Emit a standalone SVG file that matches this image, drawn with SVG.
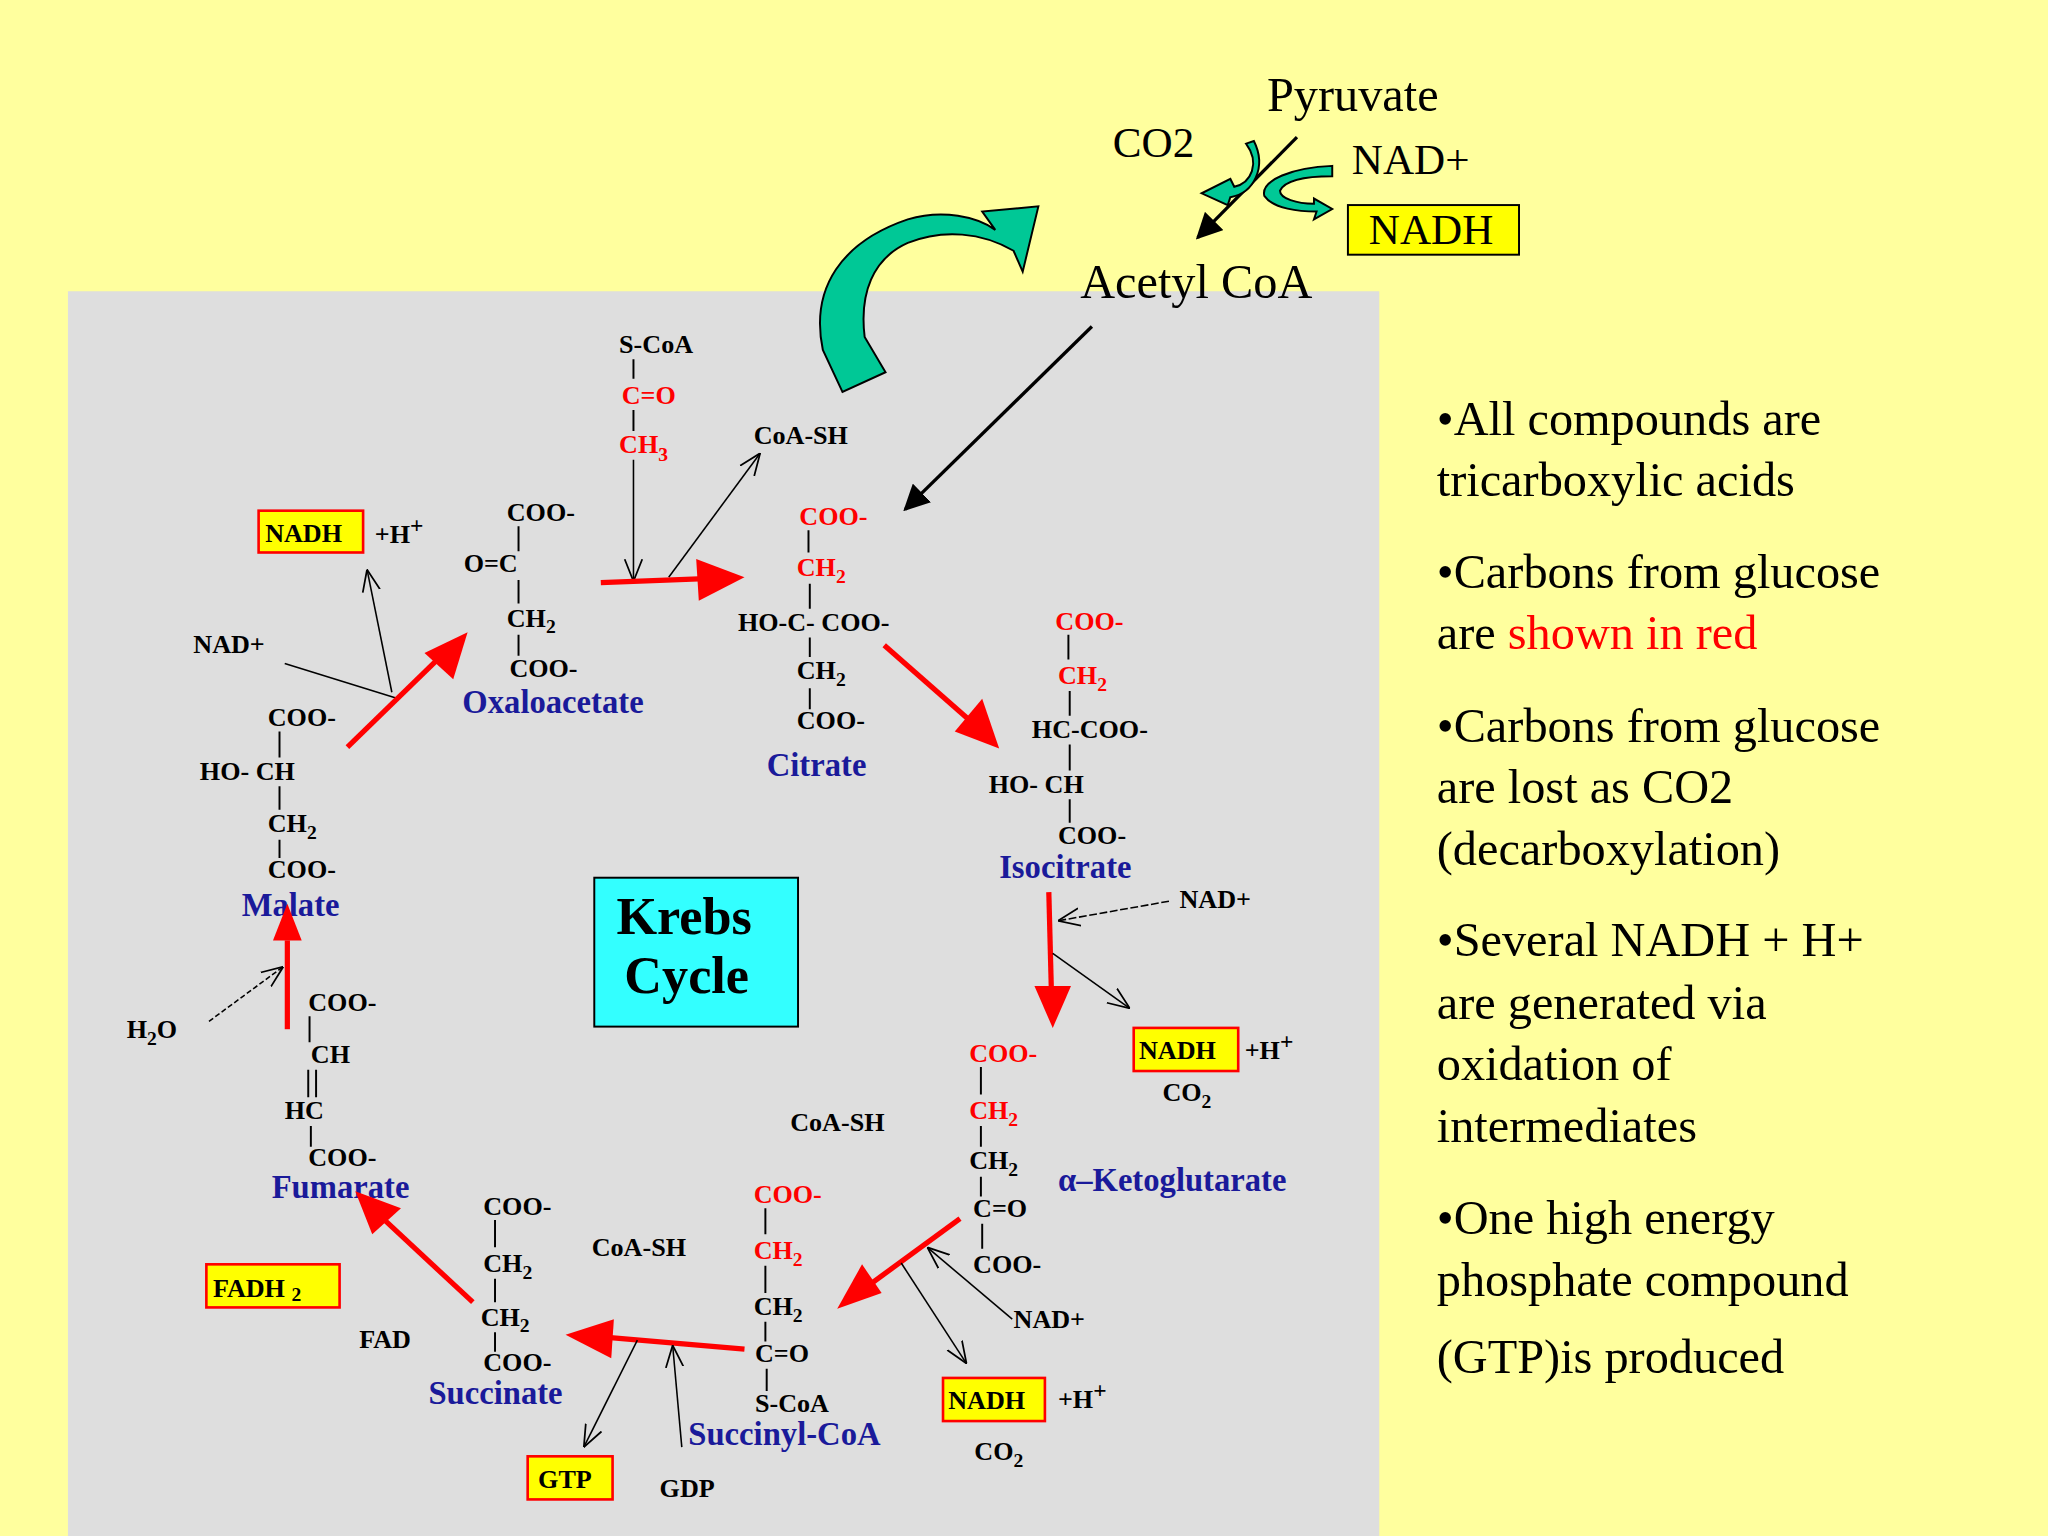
<svg xmlns="http://www.w3.org/2000/svg" width="2048" height="1536" viewBox="0 0 2048 1536">
<style>
.c{font-family:"Liberation Serif",serif;font-weight:bold;font-size:20px;fill:#000}
.r{fill:#f00}
.n{font-family:"Liberation Serif",serif;font-weight:bold;font-size:25px;fill:#1a1a9a}
.t{font-family:"Liberation Serif",serif;font-size:37px;fill:#000}
.b{stroke:#000;stroke-width:1.5;fill:none}
.th{stroke:#000;stroke-width:1.2;fill:none}
.red{stroke:#f00;stroke-width:4;fill:none}
.box{fill:#ff0;stroke:#f00;stroke-width:2}
.g{fill:#00c896;stroke:#000;stroke-width:1.5}
</style>
<defs>
<marker id="ah" viewBox="0 0 10 10" refX="9" refY="5" markerWidth="8" markerHeight="8" orient="auto"><path d="M0,0 L10,5 L0,10 z" fill="#000"/></marker>
<marker id="oh" viewBox="0 0 10 10" refX="10" refY="5" markerWidth="14" markerHeight="14" orient="auto"><path d="M0,1 L10,5 L0,9" fill="none" stroke="#000" stroke-width="0.8"/></marker>
</defs>
<rect width="2048" height="1536" fill="#ffff9e"/>
<g transform="scale(1.30612)">
<rect x="52" y="223" width="1004" height="953" fill="#dedede"/>

<g id="top">
<text class="t" x="970" y="85">Pyruvate</text>
<text class="t" x="852" y="120" style="font-size:33px">CO2</text>
<text class="t" x="1035" y="133" style="font-size:33px">NAD+</text>
<rect x="1032" y="157" width="131" height="38" fill="#ff0" stroke="#000" stroke-width="1.5"/>
<text class="t" x="1048" y="187" style="font-size:33px">NADH</text>
<text class="t" x="827" y="228">Acetyl CoA</text>
<line x1="993" y1="105" x2="917" y2="182" stroke="#000" stroke-width="2.5" marker-end="url(#ah)"/>
<path class="g" d="M954,110 C965,125 958,140 945,143 L942,137 L920,148 L940,157 L942,151 C960,148 970,128 960,108 z"/>
<path class="g" d="M1020,127 C990,128 965,138 968,150 C975,160 995,162 1008,162 L1006,168 L1020,160 L1006,152 L1006,156 C993,156 980,152 980,146 C984,138 1000,135 1020,135 z"/>
<path class="g" d="M645,300 L630,268 C620,220 645,185 695,168 C722,160 748,166 762,176 L752,162 L795,158 L783,208 L776,192 C752,178 722,175 695,186 C668,198 658,225 662,258 L678,285 z"/>
<line x1="836" y1="250" x2="693" y2="390" stroke="#000" stroke-width="2.5" marker-end="url(#ah)"/>
</g>

<g id="acetyl">
<text class="c" x="474" y="270">S-CoA</text>
<text class="c r" x="476" y="309">C=O</text>
<text class="c r" x="474" y="347">CH<tspan font-size="15" dy="6">3</tspan></text>
<path class="b" d="M485,275V290M485,314V330"/>
</g>
<g id="oxaloacetate">
<text class="c" x="388" y="399">COO-</text>
<text class="c" x="355" y="438">O=C</text>
<text class="c" x="388" y="480">CH<tspan font-size="15" dy="5">2</tspan></text>
<text class="c" x="390" y="518">COO-</text>
<path class="b" d="M397,403V422M397,444V462M397,486V502"/>
<text class="n" x="354" y="546">Oxaloacetate</text>
</g>
<g id="citrate">
<text class="c r" x="612" y="402">COO-</text>
<text class="c r" x="610" y="441">CH<tspan font-size="15" dy="5">2</tspan></text>
<text class="c" x="565" y="483">HO-C-  COO-</text>
<text class="c" x="610" y="520">CH<tspan font-size="15" dy="5">2</tspan></text>
<text class="c" x="610" y="558">COO-</text>
<path class="b" d="M619,406V423M620,447V466M620,488V503M620,527V543"/>
<text class="n" x="587" y="594">Citrate</text>
</g>
<g id="isocitrate">
<text class="c r" x="808" y="482">COO-</text>
<text class="c r" x="810" y="524">CH<tspan font-size="15" dy="5">2</tspan></text>
<text class="c" x="790" y="565">HC-COO-</text>
<text class="c" x="757" y="607">HO-  CH</text>
<text class="c" x="810" y="646">COO-</text>
<path class="b" d="M818,486V505M819,529V548M819,570V590M819,612V630"/>
<text class="n" x="765" y="672">Isocitrate</text>
</g>
<g id="akg">
<text class="c r" x="742" y="813">COO-</text>
<text class="c r" x="742" y="857">CH<tspan font-size="15" dy="5">2</tspan></text>
<text class="c" x="742" y="895">CH<tspan font-size="15" dy="5">2</tspan></text>
<text class="c" x="745" y="932">C=O</text>
<text class="c" x="745" y="975">COO-</text>
<path class="b" d="M751,817V838M751,862V878M751,901V916M752,937V956"/>
<text class="n" x="810" y="912">α–Ketoglutarate</text>
</g>
<g id="succinylcoa">
<text class="c r" x="577" y="921">COO-</text>
<text class="c r" x="577" y="964">CH<tspan font-size="15" dy="5">2</tspan></text>
<text class="c" x="577" y="1007">CH<tspan font-size="15" dy="5">2</tspan></text>
<text class="c" x="578" y="1043">C=O</text>
<text class="c" x="578" y="1081">S-CoA</text>
<path class="b" d="M586,925V945M586,969V990M586,1012V1027M587,1048V1065"/>
<text class="n" x="527" y="1106">Succinyl-CoA</text>
</g>
<g id="succinate">
<text class="c" x="370" y="930">COO-</text>
<text class="c" x="370" y="974">CH<tspan font-size="15" dy="5">2</tspan></text>
<text class="c" x="368" y="1015">CH<tspan font-size="15" dy="5">2</tspan></text>
<text class="c" x="370" y="1050">COO-</text>
<path class="b" d="M379,934V955M379,979V997M379,1020V1035"/>
<text class="n" x="328" y="1075">Succinate</text>
</g>
<g id="fumarate">
<text class="c" x="236" y="774">COO-</text>
<text class="c" x="238" y="814">CH</text>
<text class="c" x="218" y="857">HC</text>
<text class="c" x="236" y="893">COO-</text>
<path class="b" d="M237,778V798M236,819V840M242,819V840M238,862V878"/>
<text class="n" x="208" y="917">Fumarate</text>
</g>
<g id="malate">
<text class="c" x="205" y="556">COO-</text>
<text class="c" x="153" y="597">HO-  CH</text>
<text class="c" x="205" y="637">CH<tspan font-size="15" dy="5">2</tspan></text>
<text class="c" x="205" y="672">COO-</text>
<path class="b" d="M214,560V580M214,602V620M214,643V657"/>
<text class="n" x="185" y="701">Malate</text>
</g>
<g id="krebs">
<rect x="455" y="672" width="156" height="114" fill="#33ffff" stroke="#000" stroke-width="1.5"/>
<text class="c" x="472" y="715" style="font-size:40px">Krebs</text>
<text class="c" x="478" y="760" style="font-size:40px">Cycle</text>
</g>
<g id="cofactors">
<text class="c" x="577" y="340">CoA-SH</text>
<rect class="box" x="198" y="391" width="80" height="32"/>
<text class="c" x="203" y="415">NADH</text>
<text class="c" x="287" y="416">+H<tspan font-size="18" dy="-8">+</tspan></text>
<text class="c" x="148" y="500">NAD+</text>
<text class="c" x="97" y="795">H<tspan font-size="15" dy="5">2</tspan><tspan dy="-5">O</tspan></text>
<rect class="box" x="158" y="968" width="102" height="33"/>
<text class="c" x="163" y="993">FADH <tspan font-size="15" dy="3">2</tspan></text>
<text class="c" x="275" y="1032">FAD</text>
<text class="c" x="453" y="962">CoA-SH</text>
<rect class="box" x="404" y="1115" width="65" height="33"/>
<text class="c" x="412" y="1139">GTP</text>
<text class="c" x="505" y="1146">GDP</text>
<text class="c" x="605" y="866">CoA-SH</text>
<text class="c" x="776" y="1017">NAD+</text>
<rect class="box" x="722" y="1055" width="78" height="33"/>
<text class="c" x="726" y="1079">NADH</text>
<text class="c" x="810" y="1078">+H<tspan font-size="18" dy="-8">+</tspan></text>
<text class="c" x="746" y="1118">CO<tspan font-size="15" dy="5">2</tspan></text>
<rect class="box" x="868" y="787" width="80" height="33"/>
<text class="c" x="872" y="811">NADH</text>
<text class="c" x="953" y="811">+H<tspan font-size="18" dy="-8">+</tspan></text>
<text class="c" x="890" y="843">CO<tspan font-size="15" dy="5">2</tspan></text>
<text class="c" x="903" y="695">NAD+</text>
</g>
<g id="connectors">
<line class="th" x1="485" y1="352" x2="485" y2="445" marker-end="url(#oh)"/>
<line class="th" x1="512" y1="442" x2="582" y2="347" marker-end="url(#oh)"/>
<line class="red" x1="460" y1="446" x2="540" y2="443"/>
<path d="M533,428 L570,442 L535,460 z" fill="#f00"/>
<line class="th" x1="218" y1="508" x2="305" y2="535"/>
<line class="th" x1="300" y1="530" x2="281" y2="436" marker-end="url(#oh)"/>
<line class="red" x1="266" y1="572" x2="340" y2="500"/>
<path d="M358,484 L347,520 L325,500 z" fill="#f00"/>
<line class="red" x1="220" y1="788" x2="220" y2="720"/>
<path d="M220,692 L231,720 L209,720 z" fill="#f00"/>
<line class="th" x1="160" y1="782" x2="217" y2="740" stroke-dasharray="4,2" marker-end="url(#oh)"/>
<line class="red" x1="362" y1="997" x2="290" y2="930"/>
<path d="M272,912 L307,925 L285,945 z" fill="#f00"/>
<line class="red" x1="570" y1="1033" x2="465" y2="1024"/>
<path d="M433,1022 L470,1010 L468,1040 z" fill="#f00"/>
<line class="th" x1="488" y1="1026" x2="447" y2="1108" marker-end="url(#oh)"/>
<line class="th" x1="522" y1="1108" x2="515" y2="1030" marker-end="url(#oh)"/>
<line class="red" x1="735" y1="933" x2="668" y2="982"/>
<path d="M641,1002 L660,968 L675,990 z" fill="#f00"/>
<line class="th" x1="775" y1="1010" x2="710" y2="955" marker-end="url(#oh)"/>
<line class="th" x1="690" y1="967" x2="740" y2="1044" marker-end="url(#oh)"/>
<line class="red" x1="803" y1="683" x2="805" y2="760"/>
<path d="M806,787 L792,755 L820,755 z" fill="#f00"/>
<line class="th" x1="895" y1="690" x2="810" y2="705" stroke-dasharray="6,2" marker-end="url(#oh)"/>
<line class="th" x1="806" y1="730" x2="865" y2="772" marker-end="url(#oh)"/>
<line class="red" x1="677" y1="494" x2="743" y2="552"/>
<path d="M765,573 L731,560 L752,535 z" fill="#f00"/>
</g>
<g id="notes">
<text class="t" x="1100" y="333">•All compounds are</text>
<text class="t" x="1100" y="380">tricarboxylic acids</text>
<text class="t" x="1100" y="450">•Carbons from glucose</text>
<text class="t" x="1100" y="497">are <tspan fill="#f00">shown in red</tspan></text>
<text class="t" x="1100" y="568">•Carbons from glucose</text>
<text class="t" x="1100" y="615">are lost as CO2</text>
<text class="t" x="1100" y="662">(decarboxylation)</text>
<text class="t" x="1100" y="732">•Several NADH + H+</text>
<text class="t" x="1100" y="780">are generated via</text>
<text class="t" x="1100" y="827">oxidation of</text>
<text class="t" x="1100" y="874">intermediates</text>
<text class="t" x="1100" y="945">•One high energy</text>
<text class="t" x="1100" y="992">phosphate compound</text>
<text class="t" x="1100" y="1051">(GTP)is produced</text>
</g>
</g>
</svg>
